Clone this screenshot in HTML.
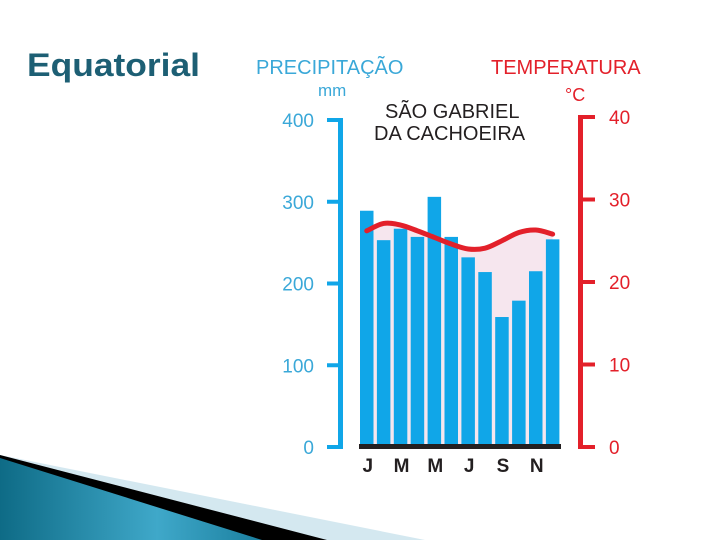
<!DOCTYPE html>
<html><head><meta charset="utf-8"><style>
html,body{margin:0;padding:0;background:#fff;}
body{width:720px;height:540px;overflow:hidden;position:relative;font-family:"Liberation Sans",sans-serif;}
</style></head><body>
<svg id="chart" width="720" height="540" viewBox="0 0 720 540" xmlns="http://www.w3.org/2000/svg">
  <defs>
    <linearGradient id="teal" x1="0" y1="0" x2="1" y2="0">
      <stop offset="0" stop-color="#0e6b86"/>
      <stop offset="0.6" stop-color="#3fa8c9"/>
      <stop offset="1" stop-color="#1b7f9f"/>
    </linearGradient>
  </defs>
  <polygon points="0,455 425,540 0,540" fill="#d4e8f0"/>
  <polygon points="0,455 327,540 0,540" fill="#000"/>
  <polygon points="0,458 262,540 0,540" fill="url(#teal)"/>
  <text x="27" y="76" font-size="32" font-weight="bold" fill="#1d5f74" textLength="173" lengthAdjust="spacingAndGlyphs">Equatorial</text>
  <g id="plot"></g>
</svg>
<script>
const months = ["J","F","M","A","M","J","J","A","S","O","N","D"];
const precip = [289,253,267,257,306,257,232,214,159,179,215,254];
const temps = [26.2,27.1,26.9,26.2,25.4,24.6,24.0,24.1,25.0,26.0,26.3,25.8];
const precipTicks = [0,100,200,300,400];
const tempTicks = [0,10,20,30,40];
const monthLabels = ["J","M","M","J","S","N"];

const NS="http://www.w3.org/2000/svg";
const g=document.getElementById('plot');
const y0=447;
const yP=v=>y0-v*0.8175;
const yT=v=>y0-v*8.25;
const pitch=16.9, bw=13.5, x0=360;
const xC=i=>x0+i*pitch+bw/2;
function mk(tag,attrs,parent){const e=document.createElementNS(NS,tag);for(const k in attrs)e.setAttribute(k,attrs[k]);(parent||g).appendChild(e);return e;}

function curvePath(){
  let d="M"+xC(0)+","+yT(temps[0]);
  for(let i=0;i<temps.length-1;i++){
    const p0=[xC(Math.max(i-1,0)),yT(temps[Math.max(i-1,0)])],p1=[xC(i),yT(temps[i])],p2=[xC(i+1),yT(temps[i+1])],p3=[xC(Math.min(i+2,temps.length-1)),yT(temps[Math.min(i+2,temps.length-1)])];
    const c1=[p1[0]+(p2[0]-p0[0])/6,p1[1]+(p2[1]-p0[1])/6],c2=[p2[0]-(p3[0]-p1[0])/6,p2[1]-(p3[1]-p1[1])/6];
    d+=" C"+c1+" "+c2+" "+p2;
  }
  return d;
}
const cp=curvePath();
const fill=mk('path',{d:cp+" L"+xC(11)+","+y0+" L"+xC(0)+","+y0+" Z",fill:"#f6e6ee"});



precip.forEach((v,i)=>{
  const r=mk('rect',{x:x0+i*pitch,y:yP(v),width:bw,height:y0-yP(v),fill:"#10a6e8"});
  
  
});
const line=mk('path',{d:cp,fill:"none",stroke:"#e3202a","stroke-width":5,"stroke-linecap":"round"});



const base=mk('rect',{x:359,y:444,width:202,height:5,fill:"#231f20"});



const la=mk('rect',{x:338,y:yP(400)-2,width:5,height:y0-yP(400)+4,fill:"#10a6e8"});


precipTicks.forEach(t=>{
  const tk=mk('rect',{x:327,y:yP(t)-2,width:14,height:4,fill:"#10a6e8"});
  
  
  const tx=mk('text',{x:314,y:yP(t)+7,"text-anchor":"end","font-size":19,fill:"#3aa8d8"});
  tx.textContent=t;
  
  
});
const ra=mk('rect',{x:578,y:yT(40)-2,width:5,height:y0-yT(40)+4,fill:"#e3202a"});


tempTicks.forEach(t=>{
  const tk=mk('rect',{x:580,y:yT(t)-2,width:15,height:4,fill:"#e3202a"});
  
  
  const tx=mk('text',{x:609,y:yT(t)+7,"font-size":19,fill:"#e3202a"});
  tx.textContent=t;
  
  
});
monthLabels.forEach((m,i)=>{
  const tx=mk('text',{x:xC(i*2)+1,y:472,"text-anchor":"middle","font-size":19,"font-weight":"bold",fill:"#231f20"});
  tx.textContent=m;
  
  
});
function label(txt,x,y,size,color,name,anchor){
  const tx=mk('text',{x:x,y:y,"font-size":size,fill:color,"text-anchor":anchor||"start"});
  tx.textContent=txt;
  
  
}
label("PRECIPITAÇÃO",256,74,20,"#3aa8d8","precip-axis-title");
label("mm",318,96,17,"#3aa8d8","precip-unit");
label("TEMPERATURA",491,74,20,"#e3202a","temp-axis-title");
label("°C",565,101,18,"#e3202a","temp-unit");
label("SÃO GABRIEL",385,118,20,"#231f20","station-name-line1");
label("DA CACHOEIRA",374,140,20,"#231f20","station-name-line2");
</script>
</body></html>
